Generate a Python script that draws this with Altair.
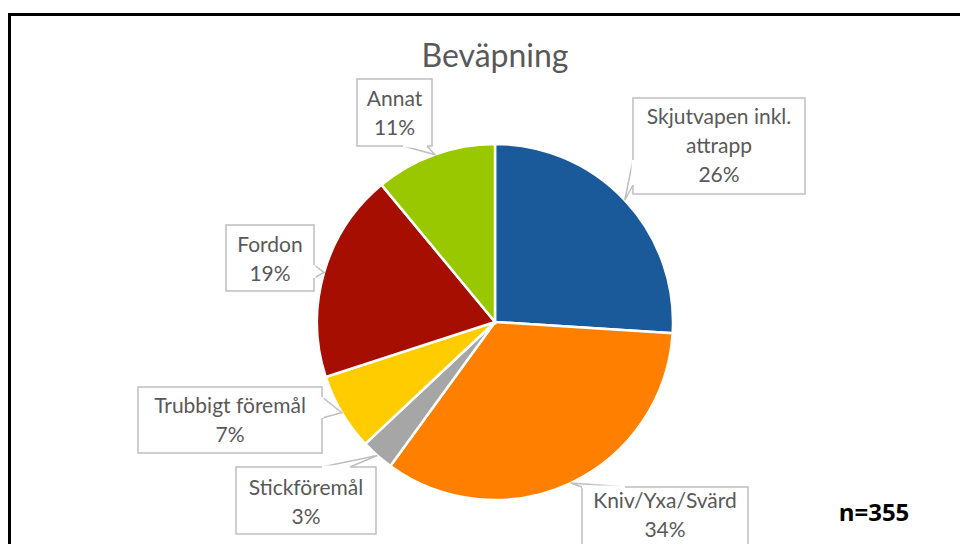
import altair as alt
import pandas as pd
import numpy as np

# ---------------- data ----------------
categories = ["Skjutvapen inkl. attrapp", "Kniv/Yxa/Svärd", "Stickföremål",
              "Trubbigt föremål", "Fordon", "Annat"]
label_names = ["Skjutvapen inkl.\nattrapp", "Kniv/Yxa/Svärd", "Stickföremål",
               "Trubbigt föremål", "Fordon", "Annat"]
shares = [26, 34, 3, 7, 19, 11]
colors = ["#1A5A9B", "#FF8000", "#A6A6A6", "#FFCC00", "#A50E00", "#99C800"]
title_text = "Beväpning"
n_text = "n=355"

# ---------------- layout (canvas px) ----------------
OFF = 8
W, H = 952, 536
CX, CY, R = 495 - OFF, 322 - OFF, 178
LH = 29
# callout boxes (page coords): x1, y1, x2, y2
boxes = [
    (633, 98, 805, 194),
    (582, 487, 748, 575),
    (236, 467, 376, 534),
    (138, 387, 322, 453),
    (226, 225, 314, 291),
    (357, 79, 432, 146),
]
# first text line centre (page coords)
first_line_y = [118, 502, 489, 407, 246, 100]
# pointer base points on box edge (page coords)
bases = [
    ((633, 160), (633, 185)),
    ((582, 487), (625, 487)),
    ((322, 467), (350, 467)),
    ((322, 397), (322, 418)),
    ((314, 265), (314, 278)),
    ((403, 146), (427, 146)),
]

# ---------------- derived tables ----------------
df = pd.DataFrame({"cat": categories, "share": shares, "idx": range(len(shares))})

total = float(sum(shares))
cum = np.cumsum([0] + shares[:-1])
mid_ang = [(c + s / 2) / total * 2 * np.pi for c, s in zip(cum, shares)]
tips = [(CX + R * np.sin(a), CY - R * np.cos(a)) for a in mid_ang]

box_rows, line_rows, cover_rows, text_rows = [], [], [], []
for i, cat in enumerate(categories):
    x1, y1, x2, y2 = boxes[i]
    box_rows.append({"cat": cat, "x1": x1 - OFF, "y1": y1 - OFF,
                     "x2": x2 - OFF, "y2": y2 - OFF})
    (bx1, by1), (bx2, by2) = bases[i]
    cover_rows.append({"cat": cat, "x1": bx1 - OFF, "y1": by1 - OFF,
                       "x2": bx2 - OFF, "y2": by2 - OFF})
    line_rows += [
        {"cat": cat, "o": 0, "x": bx1 - OFF, "y": by1 - OFF},
        {"cat": cat, "o": 1, "x": tips[i][0], "y": tips[i][1]},
        {"cat": cat, "o": 2, "x": bx2 - OFF, "y": by2 - OFF},
    ]
    text_rows.append({"cat": cat,
                      "label": f"{label_names[i]}\n{shares[i]}%",
                      "x": (x1 + x2) / 2 - OFF,
                      "y": first_line_y[i] - OFF})

box_df = pd.DataFrame(box_rows)
cover_df = pd.DataFrame(cover_rows)
line_df = pd.DataFrame(line_rows)
text_df = pd.DataFrame(text_rows)

X = lambda f: alt.X(f, type="quantitative", scale=None, axis=None)
Y = lambda f: alt.Y(f, type="quantitative", scale=None, axis=None)

pie = alt.Chart(df).mark_arc(radius=R, stroke="white", strokeWidth=2.5).encode(
    theta=alt.Theta("share:Q", stack=True),
    color=alt.Color("cat:N", scale=alt.Scale(domain=categories, range=colors), legend=None),
    order=alt.Order("idx:Q"),
    x=alt.value(CX), y=alt.value(CY),
)

rects = alt.Chart(box_df).mark_rect(fill="white", stroke="#BFBFBF", strokeWidth=1.5).encode(
    x=X("x1"), x2="x2", y=Y("y1"), y2="y2")

cover = alt.Chart(cover_df).mark_rule(stroke="white", strokeWidth=3).encode(
    x=X("x1"), x2="x2", y=Y("y1"), y2="y2")

pointers = alt.Chart(line_df).mark_line(stroke="#BFBFBF", strokeWidth=1.5).encode(
    x=X("x"), y=Y("y"), detail="cat:N", order="o:Q")

texts = alt.Chart(text_df).mark_text(
    font="Lato", fontSize=21, color="#595959", lineBreak="\n", lineHeight=LH,
    align="center", baseline="middle").encode(x=X("x"), y=Y("y"), text="label:N")

title = alt.Chart(pd.DataFrame({"t": [title_text]})).mark_text(
    font="Lato", fontSize=32, color="#595959", align="center", baseline="middle").encode(
    x=alt.value(CX), y=alt.value(57 - OFF), text="t:N")

ntext = alt.Chart(pd.DataFrame({"t": [n_text]})).mark_text(
    font="Open Sans", fontSize=24, fontWeight="bold", color="black",
    align="center", baseline="middle").encode(
    x=alt.value(874 - OFF), y=alt.value(514 - OFF), text="t:N")

border = alt.Chart(pd.DataFrame({"a": [0]})).mark_rect(
    fill=None, stroke="black", strokeWidth=3, fillOpacity=0).encode(
    x=alt.value(1.5), x2=alt.value(1200), y=alt.value(6.5), y2=alt.value(800))

chart = alt.layer(pie, pointers, rects, cover, texts, title, ntext, border).properties(
    width=W, height=H, autosize="none", padding=0
).configure_view(stroke=None)

chart.save("out.html", embed_options={"renderer": "svg", "actions": False})
